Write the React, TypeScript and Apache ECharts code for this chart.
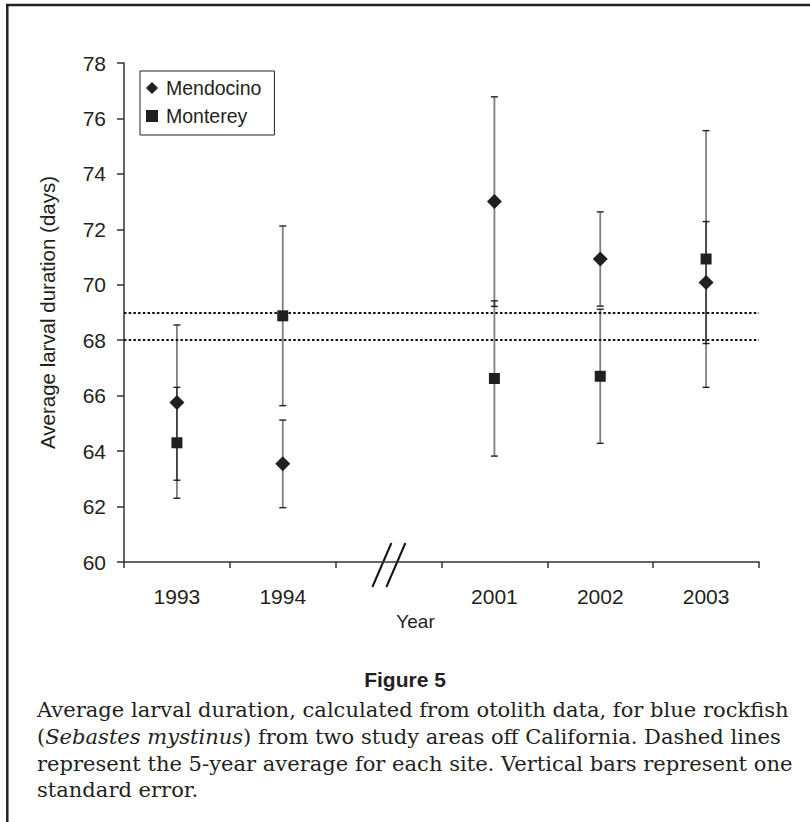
import React, { useEffect, useRef } from "react";
import * as echarts from "echarts";

// ---- data ----
const years = ["1993", "1994", "", "2001", "2002", "2003"];
const mendocinoMean = [65.75, 63.54, null, 73.0, 70.93, 70.08];
const mendocinoSE = [2.8, 1.58, null, 3.78, 1.7, 2.2];
const montereyMean = [64.3, 68.88, null, 66.62, 66.7, 70.93];
const montereySE = [2.0, 3.24, null, 2.8, 2.42, 4.63];
const mendocinoAverage = 69;
const montereyAverage = 68;
const yTicks = { min: 60, max: 78, interval: 2 };

const captionTitle = "Figure 5";
const captionLines = [
  "Average larval duration, calculated from otolith data, for blue rockfish",
  "(Sebastes mystinus) from two study areas off California. Dashed lines",
  "represent the 5-year average for each site. Vertical bars represent one",
  "standard error.",
];

const SANS = '"Liberation Sans", Arial, Helvetica, sans-serif';
const SERIF = '"DejaVu Serif", "Liberation Serif", serif';
const INK = "#231f20";

function points(means: (number | null)[]) {
  const out: number[][] = [];
  means.forEach((m, i) => {
    if (m !== null) out.push([i, m]);
  });
  return out;
}
function bars(means: (number | null)[], se: (number | null)[]) {
  const out: number[][] = [];
  means.forEach((m, i) => {
    const s = se[i];
    if (m !== null && s !== null) out.push([i, m - s, m + s]);
  });
  return out;
}

const errorRender = (params: any, api: any) => {
  const xi = api.value(0);
  const lo = api.coord([xi, api.value(1)]);
  const hi = api.coord([xi, api.value(2)]);
  const cap = 3.5;
  return {
    type: "group",
    children: [
      {
        type: "line",
        shape: { x1: lo[0], y1: lo[1], x2: hi[0], y2: hi[1] },
        style: { stroke: "rgba(0,0,0,0.5)", lineWidth: 1.8 },
      },
      {
        type: "line",
        shape: { x1: lo[0] - cap, y1: lo[1], x2: lo[0] + cap, y2: lo[1] },
        style: { stroke: "#222", lineWidth: 1.4 },
      },
      {
        type: "line",
        shape: { x1: hi[0] - cap, y1: hi[1], x2: hi[0] + cap, y2: hi[1] },
        style: { stroke: "#222", lineWidth: 1.4 },
      },
    ],
  };
};

export default function App() {
  const ref = useRef<HTMLDivElement>(null);
  useEffect(() => {
    if (!ref.current) return;
    const chart = echarts.init(ref.current, null, { renderer: "svg" });
    const dotted = {
      type: [2.5, 2.2] as any,
      color: "#111",
      width: 2.2,
    };
    chart.setOption({
      animation: false,
      backgroundColor: "#fff",
      grid: { left: 124, right: 51, top: 63, bottom: 260, containLabel: false },
      legend: {
        orient: "vertical",
        left: 140,
        top: 71,
        padding: [7, 13, 9, 6],
        itemGap: 8,
        itemWidth: 12,
        itemHeight: 12,
        borderColor: "#222",
        borderWidth: 1,
        borderRadius: 0,
        textStyle: {
          fontFamily: SANS,
          fontSize: 19.5,
          color: INK,
          lineHeight: 20,
          padding: [0, 0, 0, 3],
        },
        data: [
          { name: "Mendocino", icon: "diamond", itemStyle: { opacity: 1, color: INK } },
          { name: "Monterey", icon: "rect", itemStyle: { opacity: 1, color: INK } },
        ],
      },
      xAxis: {
        type: "category",
        data: years,
        boundaryGap: true,
        axisLine: { lineStyle: { color: "#333", width: 1.5 } },
        axisTick: { show: true, length: 6, lineStyle: { color: "#333", width: 1.5 } },
        axisLabel: {
          interval: 0,
          margin: 24,
          fontFamily: SANS,
          fontSize: 21,
          color: INK,
        },
        splitLine: { show: false },
        name: "Year",
        nameLocation: "middle",
        nameGap: 42,
        nameTextStyle: {
          fontFamily: SANS,
          fontSize: 19,
          color: INK,
          padding: [0, 52, 0, 0],
        },
      },
      yAxis: {
        type: "value",
        min: yTicks.min,
        max: yTicks.max,
        interval: yTicks.interval,
        splitLine: { show: false },
        axisLine: { show: true, lineStyle: { color: "#333", width: 1.5 } },
        axisTick: { show: true, length: 7, lineStyle: { color: "#333", width: 1.5 } },
        axisLabel: { margin: 18, fontFamily: SANS, fontSize: 21, color: INK },
        name: "Average larval duration (days)",
        nameLocation: "middle",
        nameGap: 66,
        nameTextStyle: { fontFamily: SANS, fontSize: 20.5, color: INK },
      },
      series: [
        {
          type: "custom",
          name: "MendocinoSE",
          renderItem: errorRender,
          data: bars(mendocinoMean, mendocinoSE),
          encode: { x: 0, y: [1, 2] },
          z: 1,
          silent: true,
        },
        {
          type: "custom",
          name: "MontereySE",
          renderItem: errorRender,
          data: bars(montereyMean, montereySE),
          encode: { x: 0, y: [1, 2] },
          z: 1,
          silent: true,
        },
        {
          type: "scatter",
          name: "Mendocino",
          symbol: "diamond",
          symbolSize: 15,
          itemStyle: { color: INK, opacity: 1 },
          data: points(mendocinoMean),
          z: 5,
          markLine: {
            silent: true,
            symbol: "none",
            label: { show: false },
            lineStyle: dotted,
            data: [{ yAxis: mendocinoAverage }],
          },
        },
        {
          type: "scatter",
          name: "Monterey",
          symbol: "rect",
          symbolSize: 11,
          itemStyle: { color: INK, opacity: 1 },
          data: points(montereyMean),
          z: 5,
          markLine: {
            silent: true,
            symbol: "none",
            label: { show: false },
            lineStyle: dotted,
            data: [{ yAxis: montereyAverage }],
          },
        },
      ],
    });

    // axis break marks, positioned from the axes
    const p = chart.convertToPixel({ xAxisIndex: 0, yAxisIndex: 0 }, [2, yTicks.min]) as number[];
    const bx = p[0];
    const by = p[1] + 3;

    // caption font size fitted to the column width
    let capSize = 16;
    try {
      const ctx = document.createElement("canvas").getContext("2d");
      if (ctx) {
        ctx.font = `16px ${SERIF}`;
        const w = ctx.measureText(captionLines[0]).width;
        if (w > 0) capSize = (16 * 752) / w;
      }
    } catch (e) {}

    const capStyle = (y: number, text: string, rich?: any) => ({
      type: "text",
      left: 37,
      top: y - 11,
      style: {
        text,
        fontFamily: SERIF,
        fontSize: capSize,
        fill: INK,
        rich,
      },
    });

    chart.setOption({
      graphic: [
        { type: "line", shape: { x1: 6, y1: 5, x2: 810, y2: 5 }, style: { stroke: "#222", lineWidth: 2.5 } },
        { type: "line", shape: { x1: 7.3, y1: 4, x2: 7.3, y2: 822 }, style: { stroke: "#222", lineWidth: 2.5 } },
        {
          type: "line",
          shape: { x1: bx + 2.8, y1: by - 22, x2: bx - 16.2, y2: by + 22 },
          style: { stroke: "#111", lineWidth: 2 },
        },
        {
          type: "line",
          shape: { x1: bx + 16.8, y1: by - 22, x2: bx - 2.2, y2: by + 22 },
          style: { stroke: "#111", lineWidth: 2 },
        },
        {
          type: "text",
          x: 405,
          y: 679,
          style: {
            text: captionTitle,
            fontFamily: SANS,
            fontWeight: "bold",
            fontSize: 21,
            fill: INK,
            align: "center",
            verticalAlign: "middle",
          },
        },
        capStyle(710, captionLines[0]),
        capStyle(737, "{n|(}{i|Sebastes mystinus}{n|) from two study areas off California. Dashed lines}", {
          n: { fontFamily: SERIF, fontSize: capSize, color: INK },
          i: { fontFamily: SERIF, fontSize: capSize, color: INK, fontStyle: "italic" },
        }),
        capStyle(764, captionLines[2]),
        capStyle(790, captionLines[3]),
      ],
    });

    return () => chart.dispose();
  }, []);
  return (
    <div
      ref={ref}
      style={{ position: "absolute", left: 0, top: 0, width: 810, height: 822 }}
    />
  );
}
